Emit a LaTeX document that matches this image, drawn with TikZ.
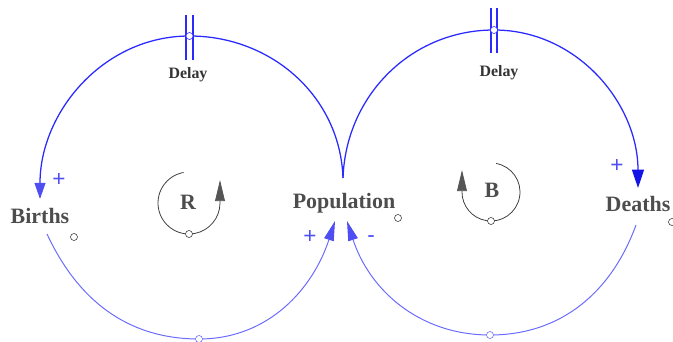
\documentclass[tikz,border=0pt]{standalone}
\usepackage{fontspec}
\setmainfont{Liberation Serif}
\newfontfamily\signfont{Liberation Sans}
\usepackage{xcolor}
\usetikzlibrary{arrows.meta, positioning, calc}
\definecolor{linkblue}{HTML}{2A2AFF}
\definecolor{softblue}{HTML}{6A6AFF}
\definecolor{tipblue}{HTML}{4E4EF2}
\definecolor{deepblue}{HTML}{1414E6}
\definecolor{labelgray}{HTML}{4D4D4D}
\definecolor{loopgray}{HTML}{3C3C3C}
\definecolor{looptip}{HTML}{555555}

\begin{document}
\begin{tikzpicture}[
  x=0.025cm, y=0.025cm,
  var/.style={font=\bfseries\fontsize{15.6pt}{18pt}\selectfont, text=labelgray, inner sep=0pt},
  looplbl/.style={font=\bfseries\fontsize{15.6pt}{18pt}\selectfont, text=labelgray, inner sep=0pt},
  delaylbl/.style={font=\bfseries\fontsize{11.3pt}{14pt}\selectfont, text=black!80, inner sep=0pt},
  sign/.style={font=\signfont\fontsize{16pt}{18pt}\selectfont, text=tipblue, inner sep=0pt},
  port/.style={circle, draw=loopgray, fill=white, line width=0.4pt,
               minimum size=5pt, inner sep=0pt},
  delayport/.style={port, draw=linkblue},
  link/.style={draw=linkblue, line width=0.9pt},
  softlink/.style={draw=softblue, line width=0.7pt},
  delaybar/.style={draw=linkblue, line width=0.9pt},
  loopline/.style={draw=loopgray, line width=0.55pt,
                   -{Triangle[length=15pt, width=7pt, color=looptip]}}
]
\useasboundingbox (0,0) rectangle (673,342);
% Variables
\node[var, anchor=base] (births) at (40,118)  {Births};
\node[var, anchor=base] (pop)    at (344,133) {Population};
\node[var, anchor=base] (deaths) at (638,130) {Deaths};
% Link end points
\coordinate (popTop)     at (343,164);
\coordinate (birthsIn)   at (40,143);
\coordinate (deathsIn)   at (638,154);
\coordinate (birthsOut)  at (47,108);
\coordinate (deathsOut)  at (636,117);
\coordinate (popInL)     at (335,121);
\coordinate (popInR)     at (347,121);
\coordinate (delayL)     at (189.5,306);
\coordinate (delayR)     at (494,312);
\coordinate (bottomL)    at (199,3);
\coordinate (bottomR)    at (490,7);
% Delayed links
\draw[link, -{Triangle[length=11.5pt, width=7.8pt, color=tipblue]}]
      (popTop) to[out=92, in=0] (delayL) to[out=180, in=90] (birthsIn);
\draw[link, -{Triangle[length=13pt, width=8.5pt, color=deepblue]}]
      (popTop) to[out=88, in=180] (delayR) to[out=0, in=90] (deathsIn);
\draw[delaybar] (delayL) ++(-3.5,21) -- ++(0,-45)
                (delayL) ++(3.5,21)  -- ++(0,-45);
\draw[delaybar] (delayR) ++(-3,22) -- ++(0,-45)
                (delayR) ++(3,22)  -- ++(0,-45);
\node[delayport] (dpL) at (delayL) {};
\node[delayport] (dpR) at (delayR) {};
\node[delaylbl, anchor=base] (delayLlbl) at (188,263) {Delay};
\node[delaylbl, anchor=base] (delayRlbl) at (499,265) {Delay};
% Flow links
\draw[softlink, -{Triangle[length=14pt, width=7pt, color=tipblue]}]
      (birthsOut) to[out=-65, in=180] (bottomL) to[out=0, in=-108] (popInL);
\draw[softlink, -{Triangle[length=14pt, width=7pt, color=tipblue]}]
      (deathsOut) to[out=-110, in=0] (bottomR) to[out=180, in=-72] (popInR);
\node[port, draw=softblue] (bpL) at (bottomL) {};
\node[port, draw=softblue] (bpR) at (bottomR) {};
% Polarities
\node[sign] (sBirths) at (59,162)  {+};
\node[sign] (sDeaths) at (617,176) {+};
\node[sign] (sPopL)   at (310,105) {+};
\node[sign] (sPopR)   at (371,103) {-};
% Ports
\node[port] (pBirths) at (74,105)  {};
\node[port] (pPop)    at (398,124) {};
\node[port] (pDeaths) at (672,120) {};
% Loops
\coordinate (Rc) at (189,139);
\coordinate (Bc) at (491,150);
\node[looplbl, anchor=base] (R) at (188,132) {R};
\node[looplbl, anchor=base] (B) at (492,144) {B};
\draw[loopline] ($(Rc)+(100:31)$) arc[start angle=100, end angle=360, radius=31]
      -- ++(0,23);
\draw[loopline] ($(Bc)+(80:29)$) arc[start angle=80, end angle=-180, radius=29]
      -- ++(0,22);
\node[port] (pR) at ($(Rc)+(0,-31)$) {};
\node[port] (pB) at ($(Bc)+(0,-29)$) {};
\end{tikzpicture}
\end{document}
